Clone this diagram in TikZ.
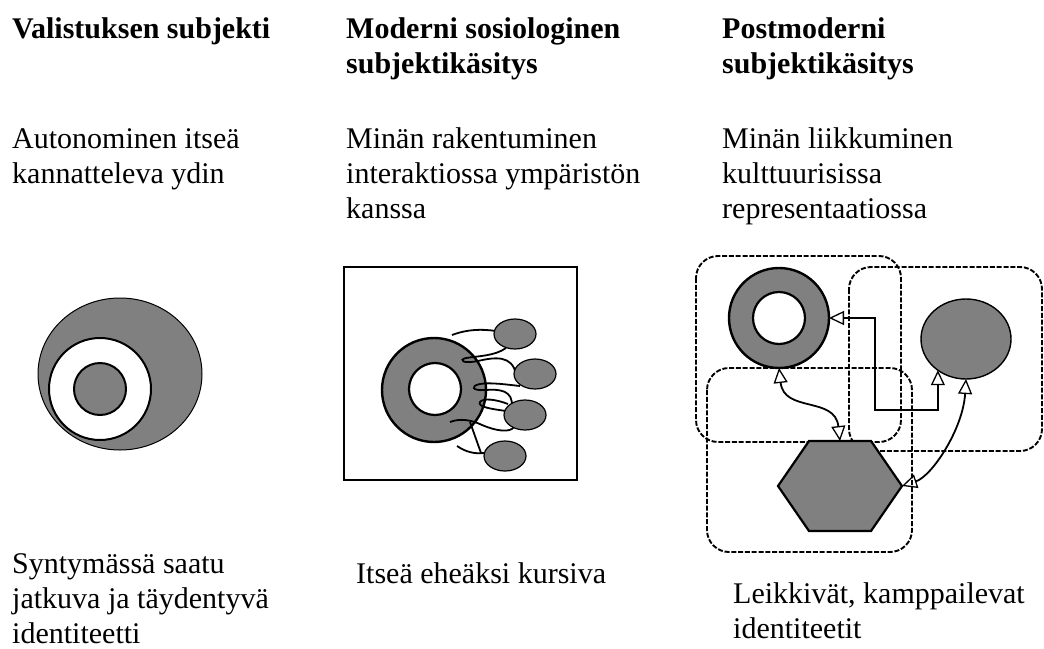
\documentclass[tikz,border=0pt]{standalone}
\usepackage{fontspec}
\setmainfont{Liberation Serif}
\usepackage{tikz}
\usetikzlibrary{arrows.meta, shapes.geometric, positioning}

\begin{document}
\begin{tikzpicture}[x=1pt, y=-1pt,
    txt/.style={anchor=base west, align=left, inner sep=0pt, font=\fontsize{30}{35}\selectfont},
    head/.style={txt, font=\fontsize{30}{35}\selectfont\bfseries},
    grey/.style={draw=black, fill=gray, inner sep=0pt, outer sep=0pt},
    hole/.style={draw=black, fill=white, inner sep=0pt, outer sep=0pt},
    coil/.style={line width=1.8pt},
    frame/.style={line width=1.9pt, dash pattern=on 5pt off 1.8pt, rounded corners=22pt},
    link/.style={line width=1.8pt, {Triangle[open,length=15pt,width=14pt,line width=1.3pt]}-{Triangle[open,length=15pt,width=14pt,line width=1.3pt]}}]
\useasboundingbox (0,0) rectangle (1044,648);

\node[head] (h1) at (12,38) {Valistuksen subjekti};
\node[head] (h2) at (346,73) {Moderni sosiologinen\\subjektik\"asitys};
\node[head] (h3) at (722,73) {Postmoderni\\subjektik\"asitys};

\node[txt] (d1) at (12,183) {Autonominen itse\"a\\kannatteleva ydin};
\node[txt] (d2) at (346,218) {Min\"an rakentuminen\\interaktiossa ymp\"arist\"on\\kanssa};
\node[txt] (d3) at (722,218) {Min\"an liikkuminen\\kulttuurisissa\\representaatiossa};

\node[txt] (b1) at (12,643) {Syntym\"ass\"a saatu\\jatkuva ja t\"aydentyv\"a\\identiteetti};
\node[txt] (b2) at (356,583) {Itse\"a ehe\"aksi kursiva};
\node[txt] (b3) at (733,638) {Leikkiv\"at, kamppailevat\\identiteetit};

\node[grey, ellipse, line width=1pt, minimum width=164pt, minimum height=152pt] (shell) at (120,374) {};
\node[hole, circle, line width=2pt, minimum size=102pt] (gap) at (100,389) {};
\node[grey, circle, line width=2pt, minimum size=52pt] (core) at (100,389) {};

\draw[line width=1.4pt] (344,267) rectangle (577,480);
\node[grey, circle, line width=2.4pt, minimum size=104pt] (ring) at (434,390) {};
\node[hole, circle, line width=2.2pt, minimum size=52pt] (self) at (435,389) {};
\draw[coil] (452,335) .. controls (468,329) and (482,329) .. (496,331);
\draw[coil] (506,348) .. controls (495,356) and (478,356) .. (466,358) .. controls (458,360) and (463,364) .. (478,361) .. controls (495,357) and (512,355) .. (516,374);
\draw[coil] (520,386) .. controls (510,385) and (490,382) .. (480,384) .. controls (470,386) and (472,391) .. (485,390) .. controls (500,389) and (513,390) .. (512,407);
\draw[coil] (508,404) .. controls (495,399) and (483,398) .. (480,402) .. controls (477,407) and (492,409) .. (506,411);
\draw[coil] (450,422) .. controls (460,418) and (472,420) .. (482,425) .. controls (496,431) and (510,433) .. (514,427);
\draw[coil] (470,422) -- (481,453);
\draw[coil] (457,446) .. controls (466,452) and (474,454) .. (484,453);
\node[grey, ellipse, line width=1.2pt, minimum width=42pt, minimum height=30pt] (o1) at (515,334) {};
\node[grey, ellipse, line width=1.2pt, minimum width=42pt, minimum height=30pt] (o2) at (535,374) {};
\node[grey, ellipse, line width=1.2pt, minimum width=42pt, minimum height=30pt] (o3) at (525,415) {};
\node[grey, ellipse, line width=1.2pt, minimum width=42pt, minimum height=30pt] (o4) at (505,456) {};

\draw[frame] (696,256) rectangle (901,442);
\draw[frame] (849,267) rectangle (1042,451);
\draw[frame] (707,368) rectangle (912,552);
\node[grey, circle, line width=2.4pt, minimum size=100pt] (rring) at (779,318) {};
\node[hole, circle, line width=2.2pt, minimum size=52pt] (rself) at (779,318) {};
\node[grey, ellipse, line width=1.4pt, minimum width=90pt, minimum height=80pt] (oval) at (966,339) {};
\coordinate (hex) at (840,486);
\coordinate (hexT) at (840,441);
\coordinate (hexR) at (902,486);
\draw[grey, line width=2.2pt] (hex) +(-62,0) -- +(-31,-45) -- +(31,-45) -- +(62,0) -- +(31,45) -- +(-31,45) -- cycle;
\coordinate (elbow) at (875,410);
\draw[link] (rring.east) -| (elbow) -| (oval.228);
\draw[link] (rring.south) .. controls +(5,45) and +(-5,-45) .. (hexT);
\draw[link] (hexR) .. controls +(30,-10) and +(-3,50) .. (oval.south);
\end{tikzpicture}
\end{document}
